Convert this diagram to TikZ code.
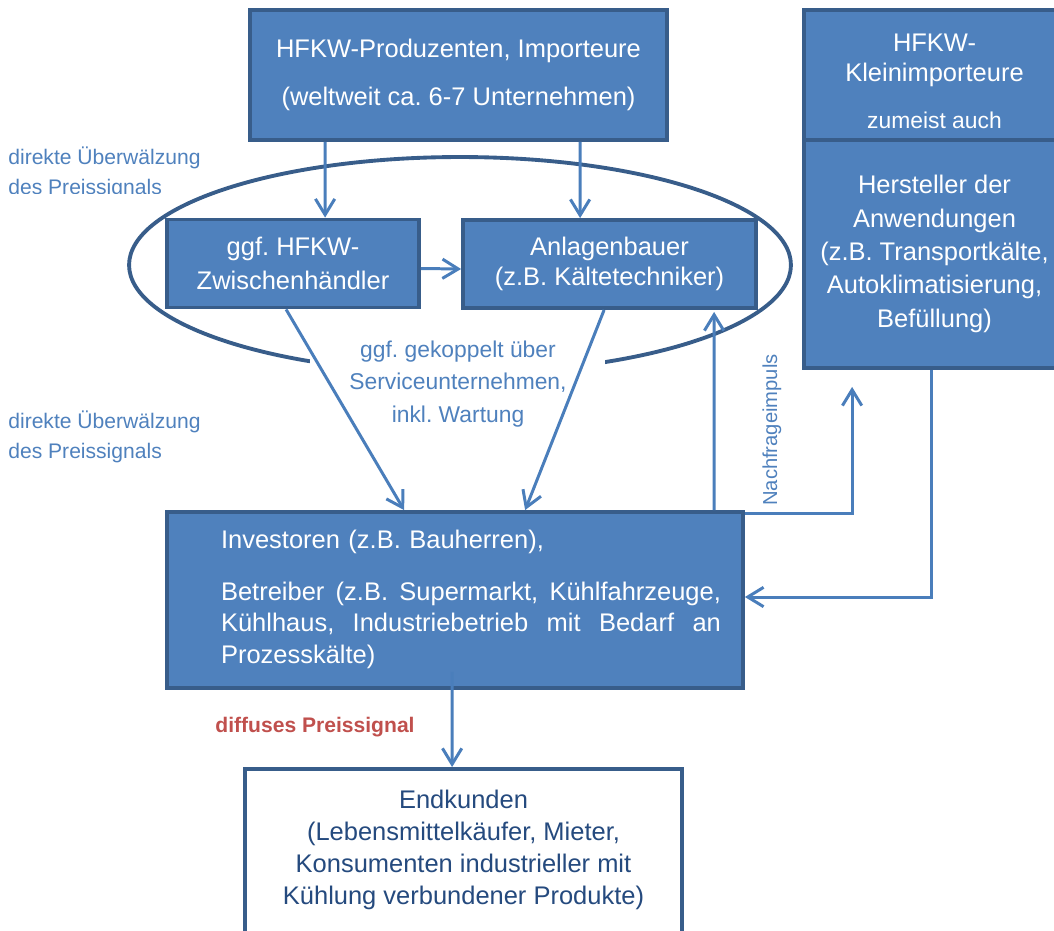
\documentclass[tikz,border=0pt]{standalone}
\usepackage{fontspec}
\setmainfont{Liberation Sans}
\frenchspacing
\usetikzlibrary{positioning, shapes.geometric, calc, arrows.meta}
\definecolor{boxfill}{HTML}{4F81BD}
\definecolor{boxedge}{HTML}{385D8A}
\definecolor{flowblue}{HTML}{4A7EBB}
\definecolor{labelblue}{HTML}{4F81BD}
\definecolor{signalred}{HTML}{C0504D}
\definecolor{enddark}{HTML}{254A7E}
\tikzset{
        market-box/.style={
            rectangle, draw=boxedge, fill=boxfill, line width=2.2pt, text=white,
            align=center, inner sep=0pt, font=\fontsize{14.5}{19}\selectfont
        },
        end-box/.style={
            rectangle, draw=boxedge, fill=white, line width=2.2pt, inner sep=0pt
        },
        market-ring/.style={
            ellipse, draw=boxedge, line width=2.2pt, inner sep=0pt
        },
        flow-arrow/.style={
            draw=flowblue, line width=1.7pt, -{Straight Barb[length=9pt,width=11pt]}
        },
        side-note/.style={
            text=labelblue, inner sep=0pt, align=left, font=\fontsize{12}{17}\selectfont
        },
}

\begin{document}
\begin{tikzpicture}[x=0.02cm, y=-0.02cm]

        \useasboundingbox (0,0) rectangle (1054,930);
        \clip (0,0) rectangle (1054,930);

        % DRAW NODES (placed relative to the producer box)
        \node[market-box, minimum width=8.34cm, minimum height=2.6cm]  (prod)   at (458.5,75)             {HFKW-Produzenten, Importeure\\[8pt](weltweit ca. 6-7 Unternehmen)};
        \node[market-ring, minimum width=13.24cm, minimum height=4.32cm] (ring) at ($(prod)+(1.5,190)$)  {};
        \node[market-box, minimum width=5.22cm, minimum height=2.6cm]  (klein)  at ($(prod)+(476,0)$)     {};
        \node[text=white, align=center, inner sep=0pt,
              font=\fontsize{14.5}{17.5}\selectfont]                   (kleintxt) at ($(prod)+(476,6)$)   {HFKW-\\Kleinimporteure\\[9pt]{\fontsize{13}{15}\selectfont zumeist auch}};
        \node[market-box, minimum width=5.22cm, minimum height=4.56cm] (herst)  at ($(prod)+(476,179)$)   {Hersteller der\\Anwendungen\\(z.B. Transportkälte,\\Autoklimatisierung,\\Befüllung)};
        \node[market-box, minimum width=5.04cm, minimum height=1.76cm] (zwh)    at ($(prod)+(-165.5,188.5)$) {ggf. HFKW-\\Zwischenhändler};
        \node[market-box, minimum width=5.86cm, minimum height=1.76cm] (anl)    at ($(prod)+(151,189)$)   {\raisebox{-2pt}{Anlagenbauer}\\(z.B. Kältetechniker)};
        \node[market-box, minimum width=11.52cm, minimum height=3.52cm] (inv)   at ($(prod)+(-3.5,525)$)  {};
        \node[text=white, text width=10cm, align=left, inner sep=0pt,
              font=\fontsize{14.5}{18}\selectfont]                     (invtxt) at ($(prod)+(12.5,524.5)$) {Investoren (z.B. Bauherren),\\[11.2pt]\makebox[10cm][s]{Betreiber\hfill (z.B.\hfill Supermarkt,\hfill Kühlfahrzeuge,}\\\makebox[10cm][s]{Kühlhaus,\hfill Industriebetrieb\hfill mit\hfill Bedarf\hfill an}\\Prozesskälte)};
        \node[end-box, anchor=north, minimum width=8.74cm, minimum height=5cm] (end) at ($(prod)+(5,692)$) {};
        \node[text=enddark, align=center, inner sep=0pt,
              font=\fontsize{14.5}{18.3}\selectfont]                   (endtxt) at ($(prod)+(5,775)$)     {Endkunden\\(Lebensmittelkäufer, Mieter,\\Konsumenten industrieller mit\\Kühlung verbundener Produkte)};

        % SIDE NOTES
        \begin{scope}
            \clip (0,135) rectangle (260,193);
            \node[side-note, anchor=west] (direct1) at ($(prod)+(-450.5,98)$) {direkte Überwälzung\\des Preissignals};
        \end{scope}
        \node[side-note, anchor=west] (direct2) at ($(prod)+(-450.5,362)$) {direkte Überwälzung\\des Preissignals};
        \node[fill=white, inner sep=0pt, minimum width=5.9cm, minimum height=1.82cm]
                                      (couplebox) at ($(prod)+(-1,305.5)$) {};
        \begin{scope}
            \clip (couplebox.north west) rectangle (couplebox.south east);
            \node[side-note, align=center, font=\fontsize{13}{18.5}\selectfont]
                                      (coupled) at ($(prod)+(-0.5,309)$)   {ggf. gekoppelt über\\Serviceunternehmen,\\inkl. Wartung};
        \end{scope}
        \node[side-note, rotate=90, font=\fontsize{11.5}{14}\selectfont]
                                      (impuls)  at ($(prod)+(313.5,355)$)  {Nachfrageimpuls};
        \node[text=signalred, inner sep=0pt, font=\bfseries\fontsize{12}{14}\selectfont]
                                      (diffuse) at ($(prod)+(-143.5,652)$) {diffuses Preissignal};

        % CONNECT PRODUCERS
        \draw [flow-arrow] ($(prod.south west)+(77,0)$)  -- ($(zwh.north west)+(160,0)$);
        \draw [flow-arrow] ($(prod.south west)+(332,0)$) -- ($(anl.north west)+(119,0)$);
        \draw [flow-arrow] ($(zwh.east)+(0,5)$) -- ($(anl.west)+(0,5)$);

        % CONNECT TO INVESTORS
        \draw [flow-arrow] ($(zwh.south west)+(121,0)$) -- ($(inv.north west)+(239,0)$);
        \draw [flow-arrow] ($(anl.south west)+(143,0)$) -- ($(inv.north west)+(360,0)$);
        \draw [flow-arrow] ($(herst.south west)+(129,0)$) |- ($(inv.east)+(0,-3)$);

        % DEMAND IMPULSE
        \draw [flow-arrow] ($(inv.north west)+(549,0)$) -- ($(anl.south west)+(253,2)$);
        \draw [flow-arrow] ($(inv.north east)+(0,3)$) -| ($(herst.south west)+(50,17)$);

        % CONNECT END CUSTOMERS
        \draw [flow-arrow] ($(inv.south west)+(287,-18)$) -- ($(end.north west)+(209,0)$);

\end{tikzpicture}
\end{document}
